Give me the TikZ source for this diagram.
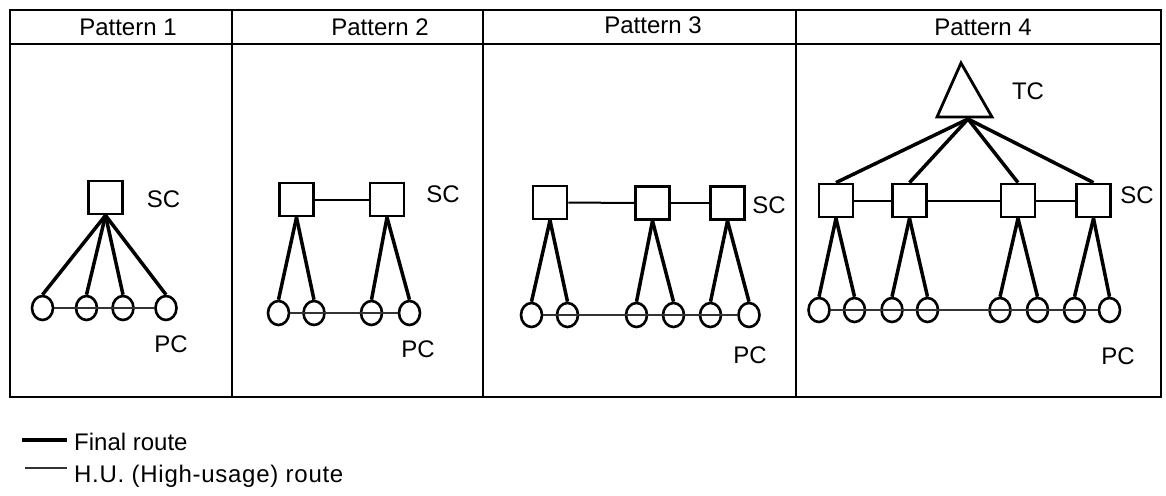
\documentclass[tikz,border=0pt]{standalone}
\usepackage{fontspec}
\setmainfont{Liberation Sans}
\usetikzlibrary{shapes.geometric}
\begin{document}
\begin{tikzpicture}[x=1pt,y=-1pt,
  sq/.style={draw, line width=2.8pt, rectangle, minimum width=34pt, minimum height=33pt, inner sep=0pt},
  pc/.style={draw, line width=2.6pt, ellipse, minimum width=21pt, minimum height=24pt, inner sep=0pt},
  fin/.style={line width=3.5pt},
  hu/.style={line width=1.2pt, black!80},
  ss/.style={line width=2pt},
  lbl/.style={font=\fontsize{24}{28}\selectfont, inner sep=0pt},
  frm/.style={line width=2.2pt}]
\useasboundingbox (0,0) rectangle (1166,495);

% frame and header
\draw[frm] (10,10) rectangle (1161,397);
\draw[frm] (10,44) -- (1161,44);
\draw[frm] (232,10) -- (232,397);
\draw[frm] (483,10) -- (483,397);
\draw[frm] (796,10) -- (796,397);
\node[lbl] (h1) at (128,27) {Pattern 1};
\node[lbl] (h2) at (380,27) {Pattern 2};
\node[lbl] (h3) at (653,25) {Pattern 3};
\node[lbl] (h4) at (983,27) {Pattern 4};

% Pattern 1
\node[sq] (s11) at (105.5,197.5) {};
\foreach \i/\x in {1/42.5,2/86.5,3/123,4/166} \node[pc] (p1\i) at (\x,308) {};
\draw[hu] (p11.east) -- (p14.west);
\foreach \i in {1,2,3,4} \draw[fin] (s11.south) -- (p1\i.north);
\node[lbl] (sc1) at (163.5,199) {SC};
\node[lbl] (pcl1) at (171,344) {PC};

% Pattern 2
\node[sq] (s21) at (296.5,199.5) {};
\node[sq] (s22) at (387,199.5) {};
\draw[ss] (s21.east) -- (s22.west);
\foreach \i/\x in {1/278.5,2/314,3/371.5,4/409.5} \node[pc] (p2\i) at (\x,313) {};
\draw[hu] (p21.east) -- (p24.west);
\draw[fin] (s21.south) -- (p21.north);
\draw[fin] (s21.south) -- (p22.north);
\draw[fin] (s22.south) -- (p23.north);
\draw[fin] (s22.south) -- (p24.north);
\node[lbl] (sc2) at (443,194) {SC};
\node[lbl] (pcl2) at (418,349) {PC};

% Pattern 3
\node[sq] (s31) at (550,202.5) {};
\node[sq] (s32) at (652.5,203) {};
\node[sq] (s33) at (727.5,203) {};
\draw[ss] (s31.east) -- (s32.west);
\draw[ss] (s32.east) -- (s33.west);
\foreach \i/\x in {1/531.5,2/567.5,3/636.5,4/673.5,5/710.5,6/749} \node[pc] (p3\i) at (\x,315) {};
\draw[hu] (p31.east) -- (p36.west);
\draw[fin] (s31.south) -- (p31.north);
\draw[fin] (s31.south) -- (p32.north);
\draw[fin] (s32.south) -- (p33.north);
\draw[fin] (s32.south) -- (p34.north);
\draw[fin] (s33.south) -- (p35.north);
\draw[fin] (s33.south) -- (p36.north);
\node[lbl] (sc3) at (769,205) {SC};
\node[lbl] (pcl3) at (750,355) {PC};

% Pattern 4
\draw[line width=2.8pt, line join=miter] (961,63) -- (937,117) -- (992,117) -- cycle;
\coordinate (tc) at (968,119);
\node[lbl] (tcl) at (1028,91) {TC};
\node[sq] (s41) at (836,200.5) {};
\node[sq] (s42) at (909.5,200.5) {};
\node[sq] (s43) at (1018,200.5) {};
\node[sq] (s44) at (1093.5,200.5) {};
\draw[ss] (s41.east) -- (s42.west);
\draw[ss] (s42.east) -- (s43.west);
\draw[ss] (s43.east) -- (s44.west);
\foreach \i in {1,2,3,4} \draw[fin] (tc) -- (s4\i.north);
\foreach \i/\x in {1/819,2/854.5,3/892,4/927.5,5/1000,6/1037.5,7/1074.5,8/1109.5} \node[pc] (p4\i) at (\x,310) {};
\draw[hu] (p41.east) -- (p48.west);
\draw[fin] (s41.south) -- (p41.north);
\draw[fin] (s41.south) -- (p42.north);
\draw[fin] (s42.south) -- (p43.north);
\draw[fin] (s42.south) -- (p44.north);
\draw[fin] (s43.south) -- (p45.north);
\draw[fin] (s43.south) -- (p46.north);
\draw[fin] (s44.south) -- (p47.north);
\draw[fin] (s44.south) -- (p48.north);
\node[lbl] (sc4) at (1137,195) {SC};
\node[lbl] (pcl4) at (1118,356) {PC};

% legend
\coordinate (la1) at (22,440);
\coordinate (lb1) at (67,440);
\draw[fin] (la1) -- (lb1);
\node[lbl, anchor=base west] (lt1) at (74,450) {Final route};
\coordinate (la2) at (25,468);
\coordinate (lb2) at (67,468);
\draw[hu] (la2) -- (lb2);
\node[lbl, anchor=base west] (lt2) at (74,482) {\addfontfeatures{LetterSpace=3}H.U. (High-usage) route};
\end{tikzpicture}
\end{document}
